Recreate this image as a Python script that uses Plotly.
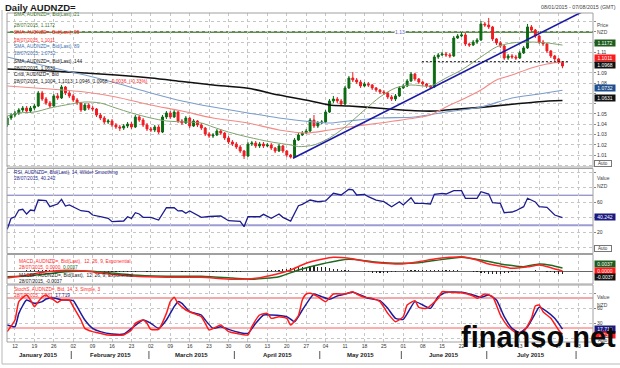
import plotly.graph_objects as go

W, H = 620, 368
def X(px): return px / W
def Y(py): return 1 - py / H

# ---------------- data (trading-day index 0 = 08 Jan 2015 ... 143 = 28 Jul 2015) ----------------
days = list(range(144))
opens = [1.0393, 1.0461, 1.0490, 1.0510, 1.0539, 1.0558, 1.0529, 1.0558, 1.0578, 1.0705,
 1.0646, 1.0607, 1.0578, 1.0676, 1.0656, 1.0763, 1.0705, 1.0676, 1.0637, 1.0607,
 1.0539, 1.0588, 1.0558, 1.0549, 1.0490, 1.0461, 1.0422, 1.0432, 1.0393, 1.0373,
 1.0363, 1.0383, 1.0402, 1.0373, 1.0471, 1.0441, 1.0393, 1.0354, 1.0344, 1.0373,
 1.0324, 1.0471, 1.0510, 1.0471, 1.0519, 1.0432, 1.0412, 1.0461, 1.0383, 1.0432,
 1.0393, 1.0363, 1.0305, 1.0285, 1.0295, 1.0334, 1.0314, 1.0266, 1.0227, 1.0207,
 1.0178, 1.0139, 1.0090, 1.0207, 1.0217, 1.0188, 1.0207, 1.0188, 1.0198, 1.0168,
 1.0139, 1.0188, 1.0139, 1.0100, 1.0080, 1.0246, 1.0295, 1.0314, 1.0334, 1.0441,
 1.0383, 1.0412, 1.0422, 1.0519, 1.0627, 1.0646, 1.0627, 1.0597, 1.0754, 1.0851,
 1.0832, 1.0812, 1.0773, 1.0793, 1.0783, 1.0754, 1.0734, 1.0715, 1.0705, 1.0666,
 1.0646, 1.0676, 1.0754, 1.0773, 1.0822, 1.0890, 1.0841, 1.0812, 1.0793, 1.0773,
 1.0763, 1.1056, 1.1076, 1.1085, 1.1076, 1.1066, 1.1241, 1.1261, 1.1271, 1.1183,
 1.1173, 1.1202, 1.1222, 1.1378, 1.1368, 1.1349, 1.1232, 1.1193, 1.1163, 1.1046,
 1.1066, 1.1056, 1.1046, 1.1095, 1.1144, 1.1349, 1.1319, 1.1261, 1.1202, 1.1183,
 1.1115, 1.1066, 1.1037, 1.1004]
highs = [1.0480, 1.0510, 1.0529, 1.0558, 1.0578, 1.0578, 1.0578, 1.0597, 1.0725, 1.0725,
 1.0666, 1.0627, 1.0695, 1.0705, 1.0783, 1.0773, 1.0724, 1.0695, 1.0656, 1.0617,
 1.0607, 1.0607, 1.0578, 1.0558, 1.0510, 1.0480, 1.0451, 1.0451, 1.0412, 1.0393,
 1.0402, 1.0422, 1.0422, 1.0490, 1.0490, 1.0461, 1.0412, 1.0373, 1.0393, 1.0393,
 1.0490, 1.0529, 1.0529, 1.0539, 1.0529, 1.0451, 1.0480, 1.0471, 1.0451, 1.0441,
 1.0412, 1.0373, 1.0324, 1.0314, 1.0354, 1.0354, 1.0324, 1.0285, 1.0246, 1.0227,
 1.0198, 1.0149, 1.0227, 1.0237, 1.0237, 1.0227, 1.0227, 1.0217, 1.0217, 1.0178,
 1.0207, 1.0198, 1.0149, 1.0110, 1.0266, 1.0314, 1.0334, 1.0354, 1.0461, 1.0490,
 1.0432, 1.0441, 1.0539, 1.0646, 1.0676, 1.0666, 1.0646, 1.0773, 1.0871, 1.0910,
 1.0851, 1.0832, 1.0812, 1.0812, 1.0793, 1.0763, 1.0744, 1.0734, 1.0715, 1.0685,
 1.0695, 1.0773, 1.0793, 1.0841, 1.0910, 1.0900, 1.0851, 1.0822, 1.0802, 1.0783,
 1.1076, 1.1095, 1.1105, 1.1105, 1.1095, 1.1261, 1.1280, 1.1300, 1.1290, 1.1193,
 1.1222, 1.1241, 1.1407, 1.1398, 1.1437, 1.1359, 1.1241, 1.1212, 1.1173, 1.1085,
 1.1085, 1.1076, 1.1115, 1.1163, 1.1378, 1.1368, 1.1329, 1.1271, 1.1222, 1.1193,
 1.1124, 1.1076, 1.1046, 1.1013]
lows = [1.0373, 1.0441, 1.0471, 1.0490, 1.0519, 1.0510, 1.0510, 1.0539, 1.0568, 1.0627,
 1.0588, 1.0558, 1.0568, 1.0637, 1.0646, 1.0685, 1.0656, 1.0617, 1.0588, 1.0519,
 1.0529, 1.0539, 1.0529, 1.0471, 1.0441, 1.0402, 1.0402, 1.0373, 1.0354, 1.0334,
 1.0344, 1.0363, 1.0354, 1.0363, 1.0422, 1.0373, 1.0334, 1.0324, 1.0324, 1.0305,
 1.0314, 1.0451, 1.0451, 1.0461, 1.0412, 1.0393, 1.0402, 1.0363, 1.0373, 1.0373,
 1.0344, 1.0285, 1.0266, 1.0266, 1.0285, 1.0295, 1.0246, 1.0207, 1.0188, 1.0158,
 1.0119, 1.0061, 1.0080, 1.0188, 1.0168, 1.0168, 1.0168, 1.0178, 1.0149, 1.0119,
 1.0129, 1.0119, 1.0080, 1.0066, 1.0071, 1.0237, 1.0285, 1.0305, 1.0324, 1.0363,
 1.0363, 1.0402, 1.0412, 1.0510, 1.0607, 1.0607, 1.0578, 1.0588, 1.0744, 1.0812,
 1.0793, 1.0754, 1.0763, 1.0763, 1.0734, 1.0715, 1.0695, 1.0685, 1.0646, 1.0627,
 1.0627, 1.0666, 1.0744, 1.0763, 1.0812, 1.0822, 1.0793, 1.0773, 1.0754, 1.0744,
 1.0754, 1.1037, 1.1066, 1.1056, 1.1046, 1.1056, 1.1232, 1.1251, 1.1163, 1.1154,
 1.1163, 1.1183, 1.1212, 1.1349, 1.1329, 1.1212, 1.1173, 1.1144, 1.1027, 1.1027,
 1.1037, 1.1027, 1.1037, 1.1085, 1.1134, 1.1300, 1.1241, 1.1183, 1.1163, 1.1095,
 1.1046, 1.1017, 1.0988, 1.0946]
closes = [1.0461, 1.0490, 1.0510, 1.0539, 1.0558, 1.0529, 1.0558, 1.0578, 1.0705, 1.0646,
 1.0607, 1.0578, 1.0676, 1.0656, 1.0763, 1.0705, 1.0676, 1.0637, 1.0607, 1.0539,
 1.0588, 1.0558, 1.0549, 1.0490, 1.0461, 1.0422, 1.0432, 1.0393, 1.0373, 1.0363,
 1.0383, 1.0402, 1.0373, 1.0471, 1.0441, 1.0393, 1.0354, 1.0344, 1.0373, 1.0324,
 1.0471, 1.0510, 1.0471, 1.0519, 1.0432, 1.0412, 1.0461, 1.0383, 1.0432, 1.0393,
 1.0363, 1.0305, 1.0285, 1.0295, 1.0334, 1.0314, 1.0266, 1.0227, 1.0207, 1.0178,
 1.0139, 1.0090, 1.0207, 1.0217, 1.0188, 1.0207, 1.0188, 1.0198, 1.0168, 1.0139,
 1.0188, 1.0139, 1.0100, 1.0080, 1.0246, 1.0295, 1.0314, 1.0334, 1.0441, 1.0383,
 1.0412, 1.0422, 1.0519, 1.0627, 1.0646, 1.0627, 1.0597, 1.0754, 1.0851, 1.0832,
 1.0812, 1.0773, 1.0793, 1.0783, 1.0754, 1.0734, 1.0715, 1.0705, 1.0666, 1.0646,
 1.0676, 1.0754, 1.0773, 1.0822, 1.0890, 1.0841, 1.0812, 1.0793, 1.0773, 1.0763,
 1.1056, 1.1076, 1.1085, 1.1076, 1.1066, 1.1241, 1.1261, 1.1271, 1.1183, 1.1173,
 1.1202, 1.1222, 1.1378, 1.1368, 1.1349, 1.1232, 1.1193, 1.1163, 1.1046, 1.1066,
 1.1056, 1.1046, 1.1095, 1.1144, 1.1349, 1.1319, 1.1261, 1.1202, 1.1183, 1.1115,
 1.1066, 1.1037, 1.1004, 1.0968]

sma21_idx = [0, 3, 7, 11, 15, 20, 24, 28, 32, 37, 41, 46, 50, 53, 57, 62, 68, 73, 75, 79, 83, 87,
             92, 96, 100, 104, 109, 113, 117, 122, 126, 130, 135, 139, 143]
sma21 = [1.0480, 1.0510, 1.0519, 1.0558, 1.0588, 1.0617, 1.0607, 1.0558, 1.0510, 1.0461, 1.0432,
         1.0422, 1.0412, 1.0373, 1.0324, 1.0275, 1.0227, 1.0198, 1.0182, 1.0198, 1.0266, 1.0373,
         1.0539, 1.0666, 1.0754, 1.0783, 1.0773, 1.0851, 1.0929, 1.1056, 1.1154, 1.1193, 1.1202,
         1.1193, 1.1172]
sma55_idx = [0, 11, 20, 28, 37, 45, 53, 62, 70, 77, 83, 88, 96, 105, 109, 113, 118, 122, 126, 130,
             135, 139, 143]
sma55 = [1.0773, 1.0744, 1.0715, 1.0666, 1.0588, 1.0529, 1.0461, 1.0412, 1.0344, 1.0314, 1.0344,
         1.0373, 1.0412, 1.0461, 1.0490, 1.0568, 1.0656, 1.0734, 1.0832, 1.0880, 1.0949, 1.0988,
         1.1011]
sma89_idx = [0, 11, 20, 28, 37, 45, 53, 62, 70, 79, 83, 88, 96, 105, 113, 122, 130, 137, 143]
sma89 = [1.1056, 1.0959, 1.0880, 1.0802, 1.0705, 1.0627, 1.0568, 1.0510, 1.0461, 1.0422, 1.0412,
         1.0432, 1.0461, 1.0471, 1.0519, 1.0568, 1.0656, 1.0695, 1.0732]
sma144_idx = [0, 11, 20, 28, 37, 45, 53, 62, 70, 79, 83, 88, 96, 105, 110, 113, 122, 130, 137, 143]
sma144 = [1.0939, 1.0920, 1.0900, 1.0880, 1.0851, 1.0817, 1.0783, 1.0751, 1.0685, 1.0620, 1.0588,
          1.0578, 1.0556, 1.0532, 1.0529, 1.0539, 1.0565, 1.0595, 1.0620, 1.0631]

trend_idx = [73.6, 150.0]
trend_val = [1.0068, 1.1533]
resist_level = 1.13
support_idx = [106.8, 144.5]
support_val = [1.1010, 1.1010]

rsi_idx = [0, 1, 2, 3, 4, 5, 6, 7, 8, 10, 11, 12, 13, 14, 15, 16, 18, 19, 21, 22, 24, 26, 27, 29, 30,
           31, 32, 33, 34, 35, 37, 39, 40, 41, 43, 44, 45, 46, 47, 49, 50, 52, 55, 57, 59, 60, 61, 62,
           63, 65, 66, 68, 70, 71, 73, 75, 76, 78, 80, 82, 84, 86, 88, 89, 90, 92, 93, 95, 97, 99, 101,
           102, 104, 105, 107, 109, 110, 112, 113, 115, 117, 118, 121, 122, 124, 125, 127, 128, 130,
           131, 133, 134, 136, 137, 139, 140, 141, 143]
rsi = [24.5, 39.2, 41.3, 50.3, 51.2, 44.9, 50.3, 49.3, 63.6, 62.7, 54.7, 57.0, 58.3, 64.5, 55.6, 57.0,
       52.5, 49.3, 48.0, 43.6, 41.3, 39.2, 34.7, 35.6, 35.6, 41.3, 39.0, 46.7, 45.0, 40.5, 40.5, 36.9,
       45.9, 53.3, 53.3, 49.0, 49.3, 45.9, 49.0, 43.6, 40.5, 41.6, 42.3, 36.0, 34.7, 35.0, 28.0, 41.3,
       41.3, 41.3, 44.5, 39.2, 45.0, 40.5, 35.6, 56.0, 57.9, 63.6, 61.3, 62.3, 72.5, 70.3, 77.9, 77.0,
       70.3, 71.0, 68.0, 63.6, 61.3, 54.7, 61.3, 57.0, 66.7, 59.2, 59.2, 58.3, 71.2, 72.5, 71.6, 76.0,
       76.0, 65.9, 65.9, 74.7, 71.6, 60.0, 59.2, 46.7, 47.6, 49.3, 54.7, 65.9, 61.0, 54.7, 53.9, 48.0,
       43.6, 40.242]

macd_idx = [0, 5, 10, 15, 20, 25, 32, 41, 50, 58, 64, 70, 73, 77, 81, 84, 88, 93, 97, 101, 106, 110,
            114, 117, 121, 124, 127, 130, 134, 137, 140, 143]
macd = [-0.0084, -0.0050, -0.0010, 0.0010, 0.0000, -0.0030, -0.0060, -0.0076, -0.0076, -0.0100,
        -0.0088, -0.0030, 0.0012, 0.0092, 0.0140, 0.0164, 0.0152, 0.0112, 0.0092, 0.0084, 0.0112,
        0.0144, 0.0164, 0.0172, 0.0132, 0.0084, 0.0060, 0.0032, 0.0050, 0.0072, 0.0040, 0.0000]
signal_idx = [0, 5, 10, 15, 20, 25, 32, 41, 50, 58, 63, 70, 75, 81, 88, 94, 101, 106, 110, 117, 122,
              127, 130, 133, 137, 140, 143]
signal = [-0.0070, -0.0060, -0.0035, -0.0010, 0.0000, -0.0015, -0.0048, -0.0062, -0.0064, -0.0085,
          -0.0100, -0.0068, 0.0012, 0.0084, 0.0140, 0.0112, 0.0092, 0.0100, 0.0125, 0.0164, 0.0132,
          0.0085, 0.0065, 0.0052, 0.0085, 0.0070, 0.0037]
hist = [-0.0004, -0.0002, 0.0002, 0.0004, 0.0006, 0.0008, 0.0008, 0.0010, 0.0012, 0.0012, 0.0010,
        0.0008, 0.0008, 0.0006, 0.0004, 0.0002, 0.0000,
        -0.0002, -0.0004, -0.0006, -0.0008, -0.0010, -0.0010, -0.0012, -0.0012, -0.0012, -0.0010,
        -0.0010, -0.0008, -0.0008, -0.0006, -0.0006,
        -0.0006, -0.0006, -0.0004, -0.0004, -0.0006, -0.0008, -0.0008, -0.0006, -0.0004, -0.0002,
        -0.0002, -0.0004, -0.0004, -0.0006, -0.0006, -0.0008, -0.0008, -0.0010, -0.0010, -0.0010,
        -0.0012, -0.0012, -0.0012, -0.0014, -0.0014, -0.0012, -0.0010, -0.0008, -0.0006, -0.0004,
        -0.0002, 0.0000, 0.0002, 0.0004, 0.0006, 0.0008, 0.0010,
        0.0014, 0.0018, 0.0022, 0.0028, 0.0034, 0.0040, 0.0046, 0.0050, 0.0054, 0.0056, 0.0056,
        0.0054, 0.0050, 0.0044, 0.0036, 0.0028, 0.0020, 0.0014,
        0.0012, 0.0010, 0.0006, 0.0002, -0.0004,
        -0.0010, -0.0016, -0.0022, -0.0026, -0.0028, -0.0026, -0.0020, -0.0014,
        -0.0006, 0.0000, 0.0006, 0.0010, 0.0014, 0.0016, 0.0016, 0.0014, 0.0012, 0.0012, 0.0016,
        0.0018, 0.0018, 0.0016, 0.0014, 0.0012,
        0.0010, 0.0006, 0.0002, -0.0004, -0.0010,
        -0.0016, -0.0022, -0.0028, -0.0032, -0.0034, -0.0034, -0.0030, -0.0026,
        -0.0020, -0.0014, -0.0010, -0.0006, -0.0002, 0.0002,
        0.0006, 0.0008, 0.0006, 0.0002, -0.0006, -0.0014, -0.0022, -0.0030, -0.0037]

stk_idx = [0, 2, 3, 5, 6, 7, 8, 9, 10, 11, 12, 13, 14, 16, 17, 19, 20, 22, 24, 26, 30, 32, 33, 35, 36,
           37, 39, 41, 42, 43, 44, 46, 49, 50, 51, 52, 54, 55, 57, 59, 62, 63, 65, 67, 68, 70, 72, 73,
           75, 76, 77, 78, 80, 82, 84, 87, 89, 90, 92, 94, 96, 98, 100, 102, 103, 105, 106, 108, 111,
           112, 114, 117, 120, 121, 123, 125, 127, 129, 131, 133, 135, 136, 137, 138, 140, 141, 142, 143]
stoch_k = [12.7, 36.0, 72.7, 86.0, 76.0, 62.7, 72.7, 82.0, 86.0, 80.0, 76.0, 71.0, 76.0, 76.0, 62.7,
           36.0, 19.3, 12.7, 9.3, 6.0, 6.0, 16.0, 29.3, 36.0, 29.3, 17.3, 17.3, 49.3, 72.7, 81.3, 69.3,
           56.0, 46.0, 42.7, 29.3, 16.0, 22.7, 26.0, 12.7, 9.3, 6.0, 22.7, 46.0, 49.3, 39.3, 42.7, 39.3,
           26.0, 45.0, 76.0, 88.0, 89.3, 82.7, 72.7, 88.0, 88.0, 92.7, 88.0, 81.3, 79.3, 72.7, 49.3,
           32.7, 42.7, 66.0, 74.7, 61.3, 59.3, 79.3, 92.7, 91.3, 90.7, 84.0, 79.3, 88.0, 82.7, 46.0,
           22.7, 10.7, 12.7, 39.3, 64.0, 66.0, 52.7, 39.3, 28.0, 16.0, 7.231]
std_idx = [0, 2, 3, 5, 7, 9, 10, 12, 14, 17, 18, 20, 22, 24, 27, 30, 32, 35, 37, 39, 41, 43, 44, 45,
           47, 50, 51, 53, 55, 57, 60, 62, 64, 66, 68, 72, 74, 76, 78, 79, 81, 83, 85, 87, 89, 91, 93,
           96, 98, 100, 102, 105, 107, 109, 111, 113, 117, 120, 122, 124, 126, 128, 130, 132, 134, 136,
           137, 139, 141, 143]
stoch_d = [26.0, 22.7, 49.3, 76.0, 69.3, 72.7, 78.0, 80.0, 76.0, 74.7, 62.7, 36.0, 19.3, 12.7, 8.0,
           8.0, 19.3, 36.0, 29.3, 19.3, 36.0, 62.7, 72.7, 69.3, 52.7, 46.0, 36.0, 19.3, 22.7, 17.3,
           10.7, 9.3, 29.3, 46.0, 46.0, 42.7, 32.7, 56.0, 79.3, 88.0, 82.7, 77.3, 84.0, 88.0, 91.3,
           86.0, 79.3, 74.7, 59.3, 39.3, 37.3, 72.7, 66.0, 59.3, 82.7, 91.3, 91.3, 86.0, 81.3, 86.0,
           76.0, 42.7, 19.3, 10.7, 22.7, 49.3, 61.3, 52.7, 39.3, 17.719]

tick_idx = list(range(2, 148, 5))
tick_lbl = ["12", "19", "26", "02", "09", "16", "23", "02", "09", "16", "23", "30", "06", "13", "20",
            "27", "04", "11", "18", "25", "01", "08", "15", "22", "29", "06", "13", "20", "27", "03"]
month_lbl = ["January 2015", "February 2015", "March 2015", "April 2015", "May 2015", "June 2015",
             "July 2015"]
month_mid = [8, 26.5, 47.5, 69.5, 91, 112.5, 135]
month_start = [17, 37, 59, 81, 102, 124, 147]

price_ticks = [1.00, 1.01, 1.02, 1.03, 1.04, 1.05, 1.06, 1.07, 1.08, 1.09, 1.10, 1.11, 1.12, 1.13, 1.14]
price_text = ["", "1.01", "1.02", "1.03", "1.04", "1.05", "", "", "1.08", "1.09", "", "1.11", "", "", ""]

# ---------------- figure ----------------
fig = go.Figure()
GRN, RED = "#0b6a12", "#f01c22"

fig.add_trace(go.Scatter(x=sma144_idx, y=sma144, mode="lines", line=dict(color="#111111", width=1.6, shape="spline", smoothing=0.8), xaxis="x", yaxis="y"))
fig.add_trace(go.Scatter(x=sma89_idx, y=sma89, mode="lines", line=dict(color="#7b9dcc", width=1.1, shape="spline", smoothing=0.8), xaxis="x", yaxis="y"))
fig.add_trace(go.Scatter(x=sma55_idx, y=sma55, mode="lines", line=dict(color="#f28a86", width=1.1, shape="spline", smoothing=0.8), xaxis="x", yaxis="y"))
fig.add_trace(go.Scatter(x=sma21_idx, y=sma21, mode="lines", line=dict(color="#7fa36f", width=1.0, shape="spline", smoothing=0.8), xaxis="x", yaxis="y"))
fig.add_trace(go.Candlestick(x=days, open=opens, high=highs, low=lows, close=closes,
                             increasing=dict(line=dict(color=GRN, width=1), fillcolor=GRN),
                             decreasing=dict(line=dict(color=RED, width=1), fillcolor=RED),
                             whiskerwidth=0, xaxis="x", yaxis="y"))
fig.add_trace(go.Scatter(x=trend_idx, y=trend_val, mode="lines", line=dict(color="#1a1aa6", width=1.6), xaxis="x", yaxis="y"))
fig.add_trace(go.Scatter(x=support_idx, y=support_val, mode="lines", line=dict(color="#111111", width=1, dash="2px,2px"), xaxis="x", yaxis="y"))

fig.add_trace(go.Scatter(x=rsi_idx, y=rsi, mode="lines", line=dict(color="#1c1c8e", width=1.3), xaxis="x2", yaxis="y2"))

fig.add_trace(go.Bar(x=days, y=hist, marker=dict(color="#222222", line=dict(width=0)), width=0.3, xaxis="x3", yaxis="y3"))
fig.add_trace(go.Scatter(x=signal_idx, y=signal, mode="lines", line=dict(color="#1f6b1f", width=1.5, shape="spline", smoothing=0.6), xaxis="x3", yaxis="y3"))
fig.add_trace(go.Scatter(x=macd_idx, y=macd, mode="lines", line=dict(color="#ff2020", width=1.5, shape="spline", smoothing=0.6), xaxis="x3", yaxis="y3"))

fig.add_trace(go.Scatter(x=std_idx, y=stoch_d, mode="lines", line=dict(color="#1c1c9c", width=1.5, shape="spline", smoothing=0.5), xaxis="x4", yaxis="y4"))
fig.add_trace(go.Scatter(x=stk_idx, y=stoch_k, mode="lines", line=dict(color="#ff1a1a", width=1.5, shape="spline", smoothing=0.5), xaxis="x4", yaxis="y4"))

GRID = "#c6c6c6"
xc = dict(range=[-0.05, 150.86], domain=[X(7), X(593)], tickmode="array", tickvals=tick_idx,
          showgrid=True, gridcolor=GRID, griddash="dot", gridwidth=1, zeroline=False,
          showline=False, ticks="", automargin=False, fixedrange=True)
yc = dict(side="right", showline=False, automargin=False, fixedrange=True, ticks="outside",
          ticklen=2, tickcolor="#888888", tickfont=dict(size=5, color="#333333"),
          gridcolor=GRID, griddash="dot", gridwidth=1, zeroline=False)

fig.update_layout(
    width=W, height=H, margin=dict(l=0, r=0, t=0, b=0, autoexpand=False),
    paper_bgcolor="white", plot_bgcolor="white", showlegend=False,
    font=dict(family="Arial, Liberation Sans, sans-serif", size=5, color="#333333"),
    xaxis=dict(**xc, anchor="y", showticklabels=False, rangeslider=dict(visible=False)),
    xaxis2=dict(**xc, anchor="y2", showticklabels=False),
    xaxis3=dict(**xc, anchor="y3", showticklabels=False),
    xaxis4=dict(**xc, anchor="y4", showticklabels=True, ticktext=tick_lbl,
                tickfont=dict(size=5, color="#333333")),
    yaxis=dict(**yc, anchor="x", domain=[Y(167), Y(13)], range=[0.9983, 1.1485],
               tickmode="array", tickvals=price_ticks, ticktext=price_text, showgrid=True),
    yaxis2=dict(**yc, anchor="x2", domain=[Y(253.5), Y(168.5)], range=[-7.7, 105.6],
                tickmode="array", tickvals=[0, 20, 40, 60, 80, 100],
                ticktext=["", "20", "", "60", "", ""], showgrid=True),
    yaxis3=dict(side="right", anchor="x3", domain=[Y(284), Y(254.5)], range=[-0.0156, 0.0198],
                showgrid=False, showticklabels=False, ticks="", zeroline=True,
                zerolinecolor="#666666", zerolinewidth=1, automargin=False, fixedrange=True),
    yaxis4=dict(**yc, anchor="x4", domain=[Y(342), Y(285)], range=[-8, 106],
                tickmode="array", tickvals=[0, 30, 60, 90], ticktext=["", "30", "60", ""],
                showgrid=True),
    bargap=0,
)

shapes = []
# reference lines
shapes.append(dict(type="line", xref="paper", yref="y", x0=X(7), x1=X(593), y0=resist_level, y1=resist_level,
                   line=dict(color="#5e8f4c", width=2), layer="below"))
shapes.append(dict(type="line", xref="paper", yref="y2", x0=X(7), x1=X(593), y0=70, y1=70,
                   line=dict(color="#6f6fb8", width=1), layer="below"))
shapes.append(dict(type="line", xref="paper", yref="y2", x0=X(7), x1=X(593), y0=30, y1=30,
                   line=dict(color="#9c9cd4", width=2), layer="below"))
shapes.append(dict(type="line", xref="paper", yref="y4", x0=X(7), x1=X(593), y0=80, y1=80,
                   line=dict(color="#f6a8a8", width=2), layer="below"))
shapes.append(dict(type="line", xref="paper", yref="y4", x0=X(7), x1=X(593), y0=20, y1=20,
                   line=dict(color="#ff5a5a", width=1), layer="below"))
# panel frames
for top, bot in [(13, 167), (168.5, 253.5), (254.5, 284), (285, 342)]:
    shapes.append(dict(type="rect", xref="paper", yref="paper", x0=X(7), x1=X(593), y0=Y(bot), y1=Y(top),
                       line=dict(color="#a0a0a0", width=1)))
# outer frame
shapes.append(dict(type="line", xref="paper", yref="paper", x0=X(2), x1=X(2), y0=Y(364), y1=Y(10),
                   line=dict(color="#b8b8b8", width=1)))
shapes.append(dict(type="line", xref="paper", yref="paper", x0=X(2), x1=X(620), y0=Y(364), y1=Y(364),
                   line=dict(color="#b8b8b8", width=1)))
# month separators
for ms in month_start:
    shapes.append(dict(type="line", xref="x4", yref="paper", x0=ms - 0.5, x1=ms - 0.5, y0=Y(359), y1=Y(351),
                       line=dict(color="#555555", width=1)))
fig.update_layout(shapes=shapes)

ann = []
def txt(x, y, s, size=4.8, color="#222222", anchor="left", **kw):
    d = dict(xref="paper", yref="paper", x=X(x), y=Y(y), text=s, showarrow=False,
             xanchor=anchor, yanchor="middle", font=dict(size=size, color=color))
    d.update(kw)
    ann.append(d)

def box(y, s, bg):
    ann.append(dict(xref="paper", yref="paper", x=X(593.5), y=Y(y), text=s, showarrow=False,
                    xanchor="left", yanchor="middle", font=dict(size=5, color="white"),
                    bgcolor=bg, width=20, height=6, borderpad=0, align="center"))

def auto(y):
    ann.append(dict(xref="paper", yref="paper", x=X(594), y=Y(y), text="Auto", showarrow=False,
                    xanchor="left", yanchor="middle", font=dict(size=4.5, color="#333333"),
                    bgcolor="white", bordercolor="#777777", borderwidth=1, width=16, height=5,
                    borderpad=0, align="center"))

txt(3, 7.5, "<b>Daily AUDNZD=</b>", size=9.5, color="#1a1a1a")
txt(618, 7, "08/01/2015 - 07/08/2015 (GMT)", size=5.3, color="#444444", anchor="right")

SG, SR, SB = "#3f7630", "#ff2a2a", "#3f70ad"
txt(12, 14.5, "SMA, AUDNZD=, Bid(Last), 21", color=SG)
txt(12, 25, "28/07/2015, 1.1172", color=SG)
txt(12, 32.5, "SMA, AUDNZD=, Bid(Last), 55", color=SR)
txt(12, 40, "28/07/2015, 1.1011", color=SR)
txt(12, 46.8, "SMA, AUDNZD=, Bid(Last), 89", color=SB)
txt(12, 53.5, "28/07/2015, 1.0732", color=SB)
txt(12, 61.5, "SMA, AUDNZD=, Bid(Last), 144", color="#222222")
txt(12, 68.3, "28/07/2015, 1.0631", color="#222222")
txt(12, 75, "Cndl, AUDNZD=, Bid", color="#222222")
txt(12, 81.8, "28/07/2015, 1.1004, 1.1013, 1.0946, 1.0968, <span style='color:#ff2020'>-0.0036, (-0.33%)</span>",
    color="#222222")

ann.append(dict(xref="x", yref="y", x=101.2, y=resist_level, text="1.13", showarrow=False,
                font=dict(size=5, color="#6464c8"), bgcolor="white", borderpad=0))

txt(12, 172, "RSI, AUDNZD=, Bid(Last), 14, Wilder Smoothing", color="#2a2a8c")
txt(12, 178.5, "28/07/2015, 40.242", color="#2a2a8c")
txt(17, 261, "MACD, AUDNZD=, Bid(Last),  12, 26, 9, Exponential", color="#ff2a2a")
txt(17, 267.3, "28/07/2015, 0.0000, <span style='color:#1e6b1e'>0.0037</span>", color="#ff2a2a")
txt(17, 275, "MACDF, AUDNZD=, Bid(Last),  12, 26, 9, Exponential", color="#222222")
txt(17, 281.5, "28/07/2015, -0.0037", color="#222222")
txt(12, 289.5, "StochS, AUDNZD=, Bid, 14, 3, Simple, 3", color="#ff2a2a")
txt(12, 295.5, "28/07/2015, 7.231, <span style='color:#1a1a8c'>17.719</span>", color="#ff2a2a")

txt(595, 25, "Price", size=5, color="#444444")
txt(595, 32.3, "NZD", size=5, color="#444444")
box(43.3, "1.1172", "#1d5c1d")
box(58, "1.1011", "#ff1a1a")
box(65, "1.0968", "#111111")
box(88, "1.0732", "#1f4f8f")
box(98.3, "1.0631", "#111111")
auto(163)

txt(595, 178, "Value", size=5, color="#444444")
txt(595, 185.7, "NZD", size=5, color="#444444")
box(217.3, "40.242", "#1a1a80")
auto(248)

box(264, "0.0037", "#1d5c1d")
box(270.7, "0.0000", "#ff1a1a")
box(277.3, "-0.0037", "#111111")

txt(595, 296.7, "Value", size=5, color="#444444")
txt(595, 305, "NZD", size=5, color="#444444")
box(329, "17.719", "#1a1a80")
box(334.6, "7.231", "#ff1a1a")
auto(340)

for m, c in zip(month_lbl, month_mid):
    ann.append(dict(xref="x4", yref="paper", x=c, y=Y(355), text="<b>" + m + "</b>", showarrow=False,
                    xanchor="center", yanchor="middle", font=dict(size=6, color="#222222")))

ann.append(dict(xref="paper", yref="paper", x=X(538), y=Y(337), text="<b>finanso.net</b>", showarrow=False,
                xanchor="center", yanchor="middle",
                font=dict(size=29, color="#0a0a0a", family="Liberation Sans, Arial, sans-serif")))

fig.update_layout(annotations=ann)
fig.write_html("out.html", config={"displayModeBar": False, "staticPlot": True},
               post_script="document.body.style.margin='0';document.body.style.padding='0';")
